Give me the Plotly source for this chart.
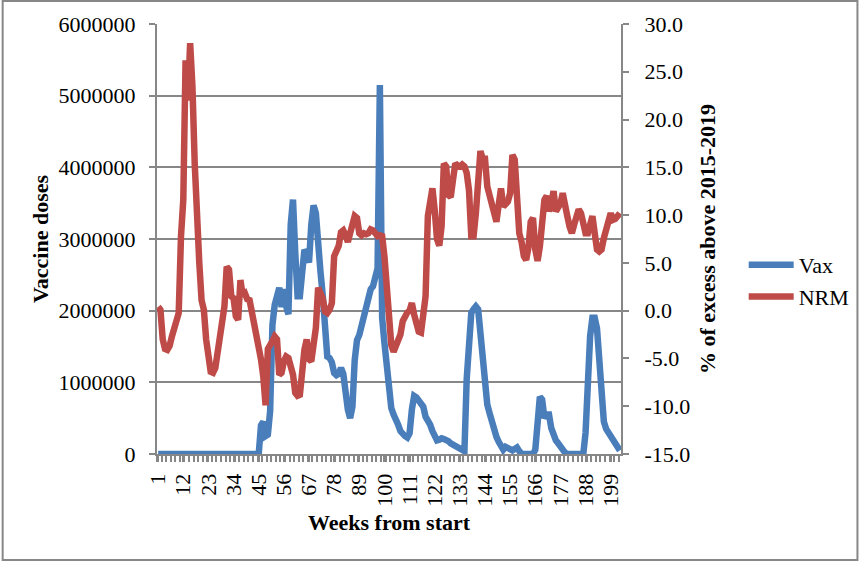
import plotly.graph_objects as go

weeks = list(range(1, 204))

vax = ([0] * 45 +
       [400000, 450000, 250000, 270000, 600000, 1800000, 2080000, 2200000, 2320000, 2050000,
        2300000, 2060000, 1950000, 3200000, 3550000, 2800000, 2200000, 2200000, 2500000, 2850000,
        2800000, 2670000, 3200000, 3470000, 3360000, 2850000, 2550000, 2220000, 1850000, 1360000,
        1340000, 1280000, 1130000, 1100000, 1120000, 1200000, 1120000, 830000, 620000, 500000,
        660000, 1310000, 1590000, 1660000, 1780000, 1900000, 2060000, 2200000, 2300000, 2340000,
        2480000, 2590000, 5150000, 1900000, 1550000, 1270000, 830000, 640000, 550000, 440000,
        410000, 320000, 270000, 250000, 230000, 290000, 620000, 810000, 790000, 750000,
        710000, 660000, 520000, 470000, 410000, 320000, 220000, 190000, 200000, 220000,
        210000, 200000, 180000, 150000, 130000, 110000, 80000, 60000, 40000, 40000,
        1050000, 1590000, 1970000, 2020000, 2060000, 2020000, 1640000, 1450000, 1130000, 690000,
        570000, 430000, 320000, 240000, 170000, 110000, 60000, 100000, 80000, 60000,
        50000, 70000, 90000, 40000] +
       [0] * 6 +
       [60000, 550000, 800000, 760000, 500000, 550000, 550000, 360000, 250000, 190000,
        150000, 100000, 70000, 20000] +
       [0] * 8 +
       [300000, 1300000, 1650000, 1900000, 1900000, 1750000, 1270000, 760000, 450000, 350000,
        300000, 250000, 190000, 110000, 80000, 50000])

nrm = [0.4, 0.1, -3.0, -4.0, -4.1, -3.7, -2.7, -1.65, -1.1, -0.25,
       7.8, 11.6, 26.2, 22.0, 28.0, 23.5, 15.4, 8.8, 5.0, 1.1,
       0.1, -3.0, -5.5, -6.4, -6.5, -6.0, -4.4, -2.9, -1.3, 0.45,
       4.6, 4.3, 1.5, 1.3, -0.6, -0.95, 3.2, 1.6, 1.8, 1.2,
       1.1, -0.1, -0.8, -2.0, -3.6, -5.1, -6.9, -9.9, -4.0, -3.4,
       -3.2, -2.7, -3.0, -6.7, -6.5, -5.3, -4.8, -4.96, -5.7, -6.7,
       -8.6, -8.9, -8.8, -5.8, -4.1, -3.0, -5.1, -5.3, -3.0, -1.8,
       2.4, 1.8, 1.3, -0.1, -0.25, 0.1, 0.8, 5.7, 6.5, 6.8,
       8.2, 8.4, 7.9, 7.2, 8.1, 9.0, 9.9, 9.7, 8.1, 7.9,
       8.1, 8.0, 8.1, 8.5, 8.4, 8.1, 7.8, 7.9, 7.8, 5.7,
       2.2, -1.6, -3.6, -4.3, -3.6, -3.2, -2.5, -1.1, -0.4, -0.2,
       0.0, 0.8, -0.4, -1.1, -2.2, -2.3, -0.25, 1.5, 9.9, 11.5,
       12.8, 10.5, 7.5, 6.8, 8.8, 15.4, 15.1, 12.1, 11.9, 13.7,
       15.4, 15.2, 15.1, 15.3, 15.1, 14.4, 12.6, 7.8, 7.8, 10.2,
       14.7, 16.7, 15.9, 15.9, 13.0, 12.1, 11.4, 9.9, 9.3, 11.1,
       12.8, 10.9, 11.2, 11.4, 12.3, 16.3, 15.8, 12.3, 8.1, 7.2,
       5.7, 5.3, 6.6, 9.3, 9.7, 6.4, 5.2, 6.7, 8.5, 11.6,
       12.0, 10.4, 11.3, 12.5, 10.4, 10.7, 11.2, 12.3, 11.4, 9.9,
       8.8, 8.1, 9.0, 9.9, 10.6, 10.2, 8.8, 8.1, 8.1, 9.5,
       9.9, 8.1, 6.4, 6.2, 6.4, 7.6, 8.3, 9.5, 10.2, 9.5,
       9.6, 9.9, 10.2]

x_tick_vals = list(range(1, 204, 11))
x_tick_text = [str(v) for v in x_tick_vals]
y2_tick_vals = [-15, -10, -5, 0, 5, 10, 15, 20, 25, 30]
y2_tick_text = ["%.1f" % v for v in y2_tick_vals]

BLUE = "#4A7EBB"
RED = "#BE4B48"
GRID = "#878787"
FONT = "Liberation Serif"

fig = go.Figure()
fig.add_trace(go.Scatter(x=weeks, y=vax, name="Vax", mode="lines",
                         line=dict(color=BLUE, width=6.5), yaxis="y"))
fig.add_trace(go.Scatter(x=weeks, y=nrm, name="NRM", mode="lines",
                         line=dict(color=RED, width=6.5), yaxis="y2"))

W, H = 867, 561
L, R, T, B = 157, 241, 24, 107
pw, ph = W - L - R, H - T - B


def px(xp):
    return (xp - L) / pw


def py(yp):
    return (H - B - yp) / ph


fig.update_layout(
    width=W, height=H,
    margin=dict(l=L, r=R, t=T, b=B),
    paper_bgcolor="white", plot_bgcolor="white",
    font=dict(family=FONT, size=22, color="black"),
    showlegend=True,
    legend=dict(x=px(750), y=py(281), xanchor="left", yanchor="middle",
                font=dict(family=FONT, size=22), itemwidth=45,
                bgcolor="rgba(0,0,0,0)", tracegroupgap=0),
    xaxis=dict(range=[0.5, 203.5], tickmode="array", tickvals=x_tick_vals,
               ticktext=x_tick_text, tickangle=-90, showgrid=False, zeroline=False,
               showline=True, linecolor=GRID, linewidth=2,
               ticks="outside", ticklen=6, tickcolor=GRID, tickwidth=1.5,
               minor=dict(ticks="outside", tick0=0.5, dtick=2, ticklen=6,
                          tickcolor=GRID, tickwidth=1.5),
               ticklabelstandoff=3,
               title=dict(text="<b>Weeks from start</b>", font=dict(size=22), standoff=9)),
    yaxis=dict(range=[0, 6000000], dtick=1000000, tickformat="d",
               showgrid=True, gridcolor=GRID, gridwidth=2, zeroline=False,
               showline=True, linecolor=GRID, linewidth=2,
               ticks="outside", ticklen=6, tickcolor=GRID, tickwidth=2,
               ticklabelstandoff=9,
               title=dict(text="<b>Vaccine doses</b>", font=dict(size=22), standoff=4)),
    yaxis2=dict(range=[-15, 30], tickmode="array", tickvals=y2_tick_vals, ticktext=y2_tick_text,
                overlaying="y", side="right",
                showgrid=False, zeroline=False,
                showline=True, linecolor=GRID, linewidth=2,
                ticks="outside", ticklen=6, tickcolor=GRID, tickwidth=2,
                ticklabelstandoff=11,
                title=dict(text="<b>% of excess above 2015-2019</b>", font=dict(size=22), standoff=10)),
    shapes=[dict(type="rect", xref="paper", yref="paper",
                 x0=px(1), x1=px(865), y0=py(560), y1=py(1),
                 line=dict(color=GRID, width=2), fillcolor="rgba(0,0,0,0)", layer="below")],
)

fig.write_html("out.html", config={"displayModeBar": False},
               post_script="document.body.style.margin='0';document.body.style.overflow='hidden';")
